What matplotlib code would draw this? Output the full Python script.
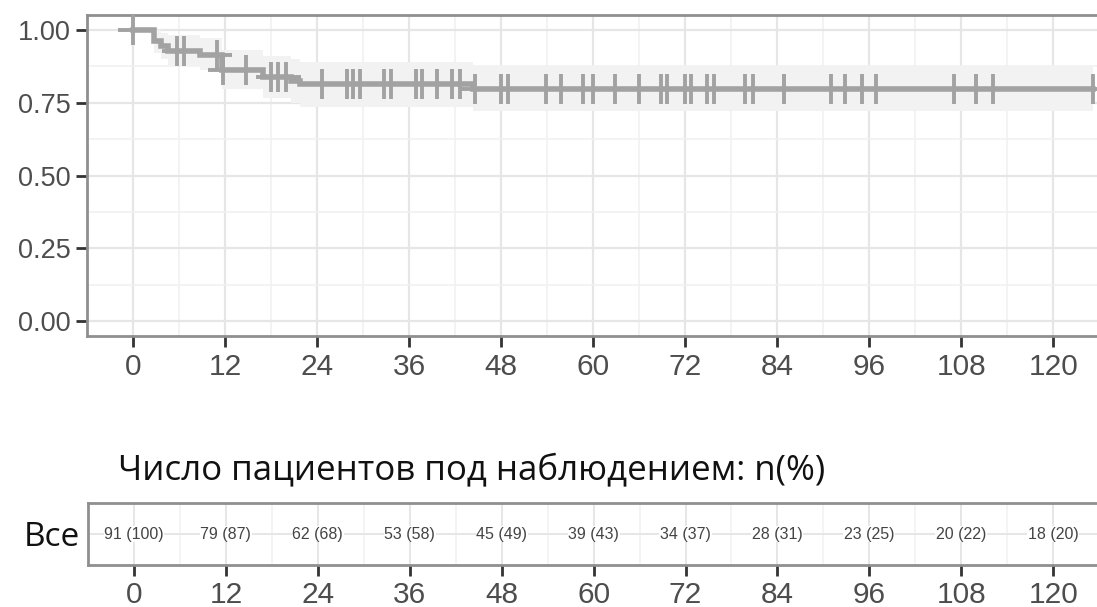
import numpy as np
import matplotlib
matplotlib.use("Agg")
import matplotlib.pyplot as plt

# Kaplan-Meier estimate (months) with 95% band
step_times = [0, 2.8, 3.6, 4.6, 8.8, 11.6, 17.0, 20.6, 21.8, 44.4]
survival = [1.0, 0.962, 0.945, 0.926, 0.914, 0.863, 0.837, 0.824, 0.813, 0.797]
ci_upper = [1.0, 1.0, 0.99, 0.98, 0.97, 0.93, 0.91, 0.90, 0.89, 0.875]
ci_lower = [1.0, 0.92, 0.90, 0.875, 0.86, 0.795, 0.765, 0.75, 0.735, 0.72]

# censored observations (months)
censor_times = [0, 5.8, 6.6, 10.9, 11.7, 14.8, 18.0, 18.9, 19.9, 24.6, 27.9, 28.7,
                29.6, 32.7, 33.6, 36.9, 37.7, 39.7, 41.6, 42.7, 44.6, 48.0, 48.9,
                53.9, 55.8, 58.7, 60.0, 62.8, 66.0, 68.9, 69.7, 72.0, 72.8, 74.8,
                75.8, 79.8, 80.8, 84.9, 91.0, 92.8, 95.1, 96.9, 107.1, 109.9,
                112.1, 125.2]

x_ticks = [0, 12, 24, 36, 48, 60, 72, 84, 96, 108, 120]
y_ticks = [0.0, 0.25, 0.50, 0.75, 1.00]
y_tick_labels = ["0.00", "0.25", "0.50", "0.75", "1.00"]

# number at risk table
at_risk_n = [91, 79, 62, 53, 45, 39, 34, 28, 23, 20, 18]
at_risk_pct = [100, 87, 68, 58, 49, 43, 37, 31, 25, 22, 20]
group_label = "Все"
table_title = "Число пациентов под наблюдением: n(%)"

W, H = 1097, 607
fig = plt.figure(figsize=(W / 100, H / 100), dpi=100)

TEXT_FONT = ["Open Sans", "DejaVu Sans"]
TICK_FONT = ["Liberation Sans", "DejaVu Sans"]
TICK_COLOR = "#4d4d4d"
FRAME = "#8f8f8f"
GRID_MAJOR = "#e6e6e6"
GRID_MINOR = "#f1f1f1"
CURVE = "#a2a2a2"
BAND = "#f2f2f2"

x_min, x_max = -6.0, 126.5


def fig_rect(left, top, right, bottom):
    return [left / W, 1 - bottom / H, (right - left) / W, (bottom - top) / H]


def style_frame(ax):
    for s in ax.spines.values():
        s.set_color(FRAME)
        s.set_linewidth(2.0)
    ax.set_facecolor("white")
    ax.tick_params(axis="both", which="major", length=8, width=2,
                   color="#333333", labelcolor=TICK_COLOR)
    ax.tick_params(axis="both", which="minor", length=0)


# ---- survival panel ----
ax = fig.add_axes(fig_rect(87, 15, 1103, 336))
style_frame(ax)
ax.set_xlim(x_min, x_max)
ax.set_ylim(-0.05, 1.05)
ax.set_xticks(x_ticks)
ax.set_xticks(np.arange(6, 126, 12), minor=True)
ax.set_yticks(y_ticks)
ax.set_yticks([0.125, 0.375, 0.625, 0.875], minor=True)
ax.set_yticklabels(y_tick_labels)
ax.grid(True, which="major", color=GRID_MAJOR, linewidth=1.6)
ax.grid(True, which="minor", color=GRID_MINOR, linewidth=1.2)
ax.set_axisbelow(True)
for lab in ax.get_xticklabels():
    lab.set_fontfamily(TICK_FONT)
    lab.set_fontsize(21.5)
for lab in ax.get_yticklabels():
    lab.set_fontfamily(TICK_FONT)
    lab.set_fontsize(19.5)
ax.tick_params(axis="x", pad=4)
ax.tick_params(axis="y", pad=4)

t_end = max(censor_times)
t_ext = list(step_times) + [t_end]
s_ext = list(survival) + [survival[-1]]
u_ext = list(ci_upper) + [ci_upper[-1]]
l_ext = list(ci_lower) + [ci_lower[-1]]

ax.fill_between(t_ext, l_ext, u_ext, step="post", color=BAND, linewidth=0, zorder=2)
ax.step(t_ext, s_ext, where="post", color=CURVE, linewidth=4, zorder=3,
        solid_joinstyle="miter")

idx = np.searchsorted(step_times, censor_times, side="right") - 1
censor_y = np.asarray(survival)[idx]
ax.plot(censor_times, censor_y, linestyle="none", marker="+", markersize=22,
        markeredgewidth=2.8, color=CURVE, zorder=4)

# ---- title of the at-risk table ----
fig.text(118 / W, 1 - 479 / H, table_title, fontsize=25.1, color="#111111",
         family=TEXT_FONT, ha="left", va="baseline")

# ---- at-risk table ----
tab = fig.add_axes(fig_rect(88, 503, 1103, 565))
style_frame(tab)
tab.set_xlim(x_min, x_max)
tab.set_ylim(0, 1)
tab.set_xticks(x_ticks)
tab.set_xticks(np.arange(6, 126, 12), minor=True)
tab.set_yticks([0.5])
tab.set_yticklabels([group_label])
tab.tick_params(axis="y", length=0, pad=6, labelcolor="#111111")
for lab in tab.get_yticklabels():
    lab.set_fontfamily(TEXT_FONT)
    lab.set_fontsize(24)
for lab in tab.get_xticklabels():
    lab.set_fontfamily(TICK_FONT)
    lab.set_fontsize(21.5)
tab.grid(True, which="major", color=GRID_MAJOR, linewidth=1.4)
tab.grid(True, which="minor", axis="x", color=GRID_MINOR, linewidth=1.1)
tab.set_axisbelow(True)

for t, n, p in zip(x_ticks, at_risk_n, at_risk_pct):
    tab.text(t, 0.5, f"{n} ({p})", ha="center", va="center", fontsize=11.5,
             color="#444444", family=TICK_FONT, zorder=3,
             bbox=dict(facecolor="white", edgecolor="none", pad=0.5))

fig.savefig("out.png", dpi=100)
